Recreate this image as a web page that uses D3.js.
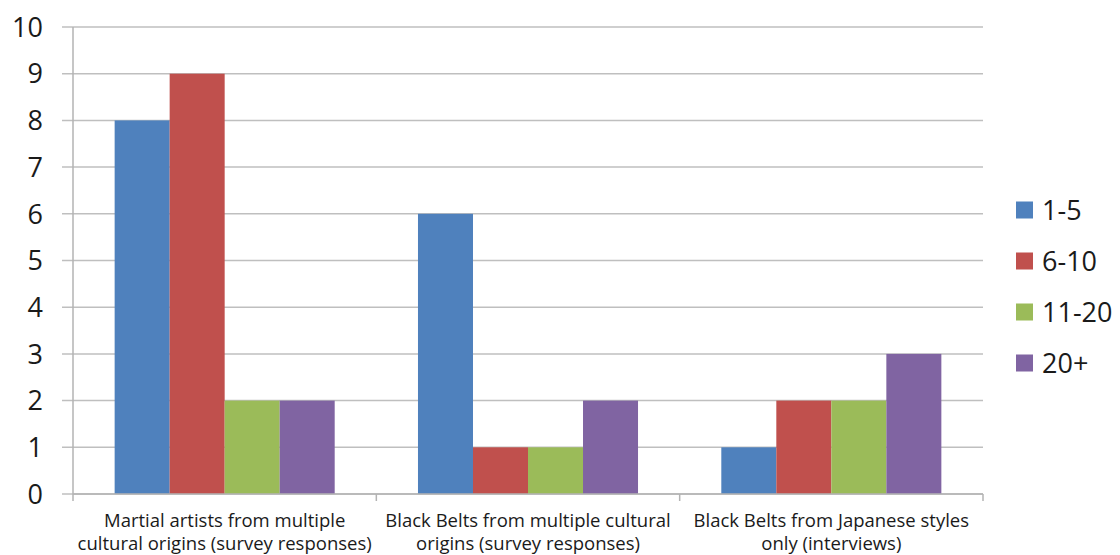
<!DOCTYPE html>
<html><head><meta charset="utf-8">
<script src="https://cdn.jsdelivr.net/npm/d3@7"></script>
<style>body{margin:0;background:#fff;}svg{display:block;}</style>
</head><body>
<svg id="c" width="1120" height="555"></svg>
<script>
const categories = [
  ["Martial artists from multiple", "cultural origins (survey responses)"],
  ["Black Belts from multiple cultural", "origins (survey responses)"],
  ["Black Belts from Japanese styles", "only (interviews)"]
];
const seriesNames = ["1-5", "6-10", "11-20", "20+"];
const seriesColors = ["#4f81bd", "#c0504d", "#9bbb59", "#8064a2"];
const values1to5 = [8, 6, 1];
const values6to10 = [9, 1, 2];
const values11to20 = [2, 1, 2];
const values20plus = [2, 2, 3];
const yTicks = [0,1,2,3,4,5,6,7,8,9,10];

const seriesValues = [values1to5, values6to10, values11to20, values20plus];
const svg = d3.select("#c");
const font = "'Open Sans', sans-serif";
const plotLeft = 73, plotRight = 983, plotTop = 27, plotBottom = 494;

const x0 = d3.scaleBand().domain(d3.range(categories.length)).range([plotLeft, plotRight]).padding(0);
const x1 = d3.scaleBand().domain(d3.range(seriesNames.length)).range([0, x0.bandwidth()]).paddingInner(0).paddingOuter(0.757);
const y = d3.scaleLinear().domain([0, 10]).range([plotBottom, plotTop]);

// gridlines
svg.append("g").selectAll("line").data(yTicks).join("line")
  .attr("x1", plotLeft - 11).attr("x2", plotRight)
  .attr("y1", d => y(d)).attr("y2", d => y(d))
  .attr("stroke", "#bfbfbf").attr("stroke-width", 1.5);

// y tick labels
svg.append("g").selectAll("text").data(yTicks).join("text")
  .attr("x", 43).attr("y", d => y(d)).attr("dy", "0.36em")
  .attr("text-anchor", "end").attr("font-family", font).attr("font-size", 27)
  .attr("fill", "#1a1a1a").text(d => d);

// bars
const g = svg.append("g").selectAll("g").data(categories).join("g")
  .attr("transform", (d, i) => `translate(${x0(i)},0)`);
g.selectAll("rect").data((d, i) => seriesValues.map((s, k) => ({k, v: s[i]}))).join("rect")
  .attr("x", d => x1(d.k)).attr("width", x1.bandwidth())
  .attr("y", d => y(d.v)).attr("height", d => y(0) - y(d.v))
  .attr("fill", d => seriesColors[d.k]);

// y axis line
svg.append("line").attr("x1", plotLeft).attr("x2", plotLeft).attr("y1", plotTop).attr("y2", plotBottom)
  .attr("stroke", "#b3b3b3").attr("stroke-width", 1.5);
// x axis
svg.append("line").attr("x1", plotLeft).attr("x2", plotRight).attr("y1", plotBottom).attr("y2", plotBottom)
  .attr("stroke", "#b3b3b3").attr("stroke-width", 1.5);
const bounds = d3.range(categories.length + 1).map(i => i < categories.length ? x0(i) : plotRight);
svg.append("g").selectAll("line").data(bounds).join("line")
  .attr("x1", d => d).attr("x2", d => d).attr("y1", plotBottom).attr("y2", plotBottom + 7)
  .attr("stroke", "#b3b3b3").attr("stroke-width", 1.5);

// category labels
const lab = svg.append("g").selectAll("text").data(categories).join("text")
  .attr("text-anchor", "middle").attr("font-family", font).attr("font-size", 18.5)
  .attr("fill", "#1a1a1a");
lab.each(function(d, i) {
  const t = d3.select(this);
  d.forEach((line, j) => {
    t.append("tspan").attr("x", x0(i) + x0.bandwidth() / 2).attr("y", 527 + j * 23).text(line);
  });
});

// legend
const lg = svg.append("g").selectAll("g").data(seriesNames).join("g")
  .attr("transform", (d, i) => `translate(1016,${210 + i * 51})`);
lg.append("rect").attr("x", 0).attr("y", -8.5).attr("width", 17).attr("height", 17)
  .attr("fill", (d, i) => seriesColors[i]);
lg.append("text").attr("x", 26).attr("y", 0).attr("dy", "0.36em")
  .attr("font-family", font).attr("font-size", 27).attr("fill", "#1a1a1a").text(d => d);
</script>
</body></html>
